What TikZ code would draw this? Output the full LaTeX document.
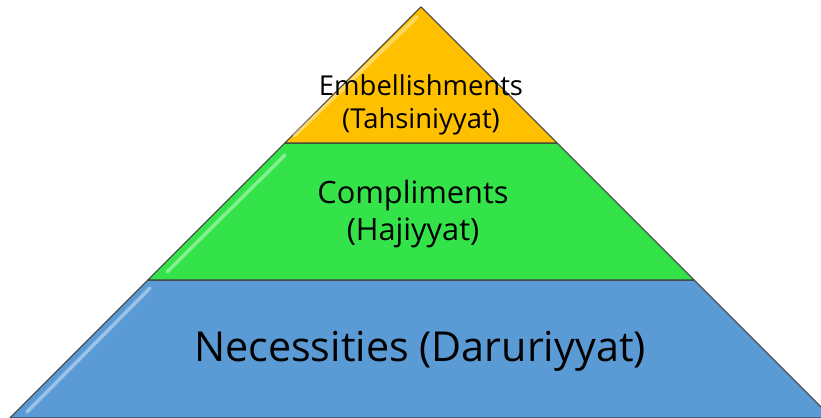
\documentclass[tikz,border=0pt]{standalone}
\usepackage{fontspec}
\setmainfont{Open Sans}
\usepackage{tikz}
\usetikzlibrary{positioning,calc}
\definecolor{tahsini}{HTML}{FFC000}
\definecolor{hajiy}{HTML}{33E349}
\definecolor{daruri}{HTML}{5B9BD5}
\tikzset{>=stealth}

\begin{document}
\begin{tikzpicture}[x=.02cm,y=.02cm,
  layer/.style={draw=black!75,line width=.6pt,line join=round},
  gloss/.style={white,line width=2pt,line cap=round,opacity=.4},
  lbl/.style={align=center,text=black,inner sep=0pt}]
\clip (0,0) rectangle (821,418);
\coordinate (apex) at (421,411);
\coordinate (l1) at (285,275); \coordinate (r1) at (557,275);
\coordinate (l2) at (148,138); \coordinate (r2) at (694,138);
\coordinate (l3) at (10,0); \coordinate (r3) at (832,0);
\filldraw[layer,fill=daruri] (l2) -- (r2) -- (r3) -- (l3) -- cycle;
\filldraw[layer,fill=hajiy] (l1) -- (r1) -- (r2) -- (l2) -- cycle;
\filldraw[layer,fill=tahsini] (apex) -- (r1) -- (l1) -- cycle;
\draw[gloss] (150,130) -- (27,6);
\draw[gloss] (285,263) -- (167,146);
\draw[gloss] (417,401) -- (294,282);
\node[lbl,font=\fontsize{15.6}{18.4}\selectfont] (emb) at (421,313) {Embellishments\\(Tahsiniyyat)};
\node[lbl,font=\fontsize{17.5}{21}\selectfont] (comp) at (413,204) {Compliments\\(Hajiyyat)};
\node[lbl,font=\fontsize{23.5}{28}\selectfont] (nec) at (420,67) {Necessities (Daruriyyat)};
\end{tikzpicture}
\end{document}
